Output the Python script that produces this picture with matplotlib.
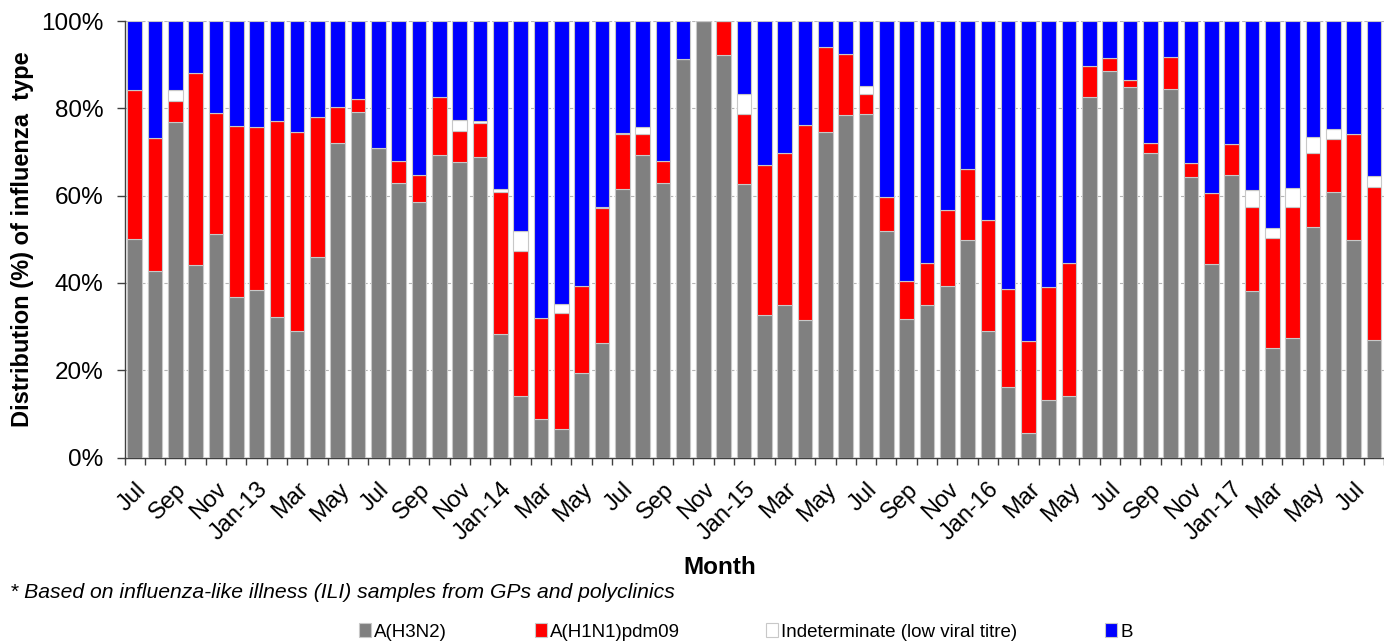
import numpy as np
import matplotlib
matplotlib.use('Agg')
import matplotlib.pyplot as plt
from matplotlib.ticker import FixedLocator, FuncFormatter

months = ["Jul", "Aug", "Sep", "Oct", "Nov", "Dec",
          "Jan-13", "Feb", "Mar", "Apr", "May", "Jun", "Jul", "Aug", "Sep", "Oct", "Nov", "Dec",
          "Jan-14", "Feb", "Mar", "Apr", "May", "Jun", "Jul", "Aug", "Sep", "Oct", "Nov", "Dec",
          "Jan-15", "Feb", "Mar", "Apr", "May", "Jun", "Jul", "Aug", "Sep", "Oct", "Nov", "Dec",
          "Jan-16", "Feb", "Mar", "Apr", "May", "Jun", "Jul", "Aug", "Sep", "Oct", "Nov", "Dec",
          "Jan-17", "Feb", "Mar", "Apr", "May", "Jun", "Jul", "Aug"]

h3n2 = [50.0, 42.7, 76.8, 44.1, 51.3, 36.7, 38.4, 32.2, 29.0, 45.9, 72.0, 79.2,
        71.0, 63.0, 58.5, 69.3, 67.7, 68.8, 28.2, 14.2, 8.8, 6.5, 19.3, 26.2,
        61.5, 69.3, 63.0, 91.2, 100.0, 92.2, 62.6, 32.6, 35.0, 31.5, 74.6, 78.5,
        78.8, 51.9, 31.7, 34.9, 39.3, 49.9, 29.0, 16.1, 5.6, 13.1, 14.2, 82.6,
        88.5, 84.9, 69.7, 84.5, 64.2, 44.3, 64.7, 38.2, 25.2, 27.4, 52.9, 60.8,
        49.9, 26.9]
h1n1 = [34.2, 30.6, 4.9, 43.9, 27.7, 39.3, 37.3, 44.8, 45.6, 32.0, 8.4, 2.9,
        0.0, 5.0, 6.3, 13.4, 7.1, 7.9, 32.7, 33.2, 23.2, 26.7, 20.1, 31.0,
        12.7, 4.8, 5.0, 0.0, 0.0, 7.8, 16.2, 34.4, 34.8, 44.7, 19.4, 13.9,
        4.4, 7.7, 8.7, 9.6, 17.4, 16.3, 25.5, 22.4, 21.1, 26.0, 30.3, 7.1,
        3.0, 1.6, 2.4, 7.3, 3.3, 16.4, 7.1, 19.2, 25.2, 29.9, 16.9, 12.2,
        24.1, 35.1]
indeterminate = [0.0, 0.0, 2.5, 0.0, 0.0, 0.0, 0.0, 0.0, 0.0, 0.0, 0.0, 0.0,
                 0.0, 0.0, 0.0, 0.0, 2.5, 0.5, 0.6, 4.5, 0.0, 1.9, 0.0, 0.2,
                 0.2, 1.7, 0.0, 0.0, 0.0, 0.0, 4.5, 0.0, 0.0, 0.0, 0.0, 0.0,
                 1.8, 0.0, 0.0, 0.0, 0.0, 0.0, 0.0, 0.0, 0.0, 0.0, 0.0, 0.0,
                 0.0, 0.0, 0.0, 0.0, 0.0, 0.0, 0.0, 3.9, 2.1, 4.4, 3.7, 2.2,
                 0.0, 2.5]
b_type = [15.8, 26.7, 15.8, 12.0, 21.0, 24.0, 24.3, 23.0, 25.4, 22.1, 19.6, 17.9,
          29.0, 32.0, 35.2, 17.3, 22.7, 22.8, 38.5, 48.1, 68.0, 64.9, 60.6, 42.6,
          25.6, 24.2, 32.0, 8.8, 0.0, 0.0, 16.7, 33.0, 30.2, 23.8, 6.0, 7.6,
          15.0, 40.4, 59.6, 55.5, 43.3, 33.8, 45.5, 61.5, 73.3, 60.9, 55.5, 10.3,
          8.5, 13.5, 27.9, 8.2, 32.5, 39.3, 28.2, 38.7, 47.5, 38.3, 26.5, 24.8,
          26.0, 35.5]

series_names = ["A(H3N2)", "A(H1N1)pdm09", "Indeterminate (low viral titre)", "B"]
series_colors = ["#808080", "#ff0000", "#ffffff", "#0000ff"]

plt.rcParams['font.family'] = ['Liberation Sans', 'DejaVu Sans']

W, H = 1384, 643
fig = plt.figure(figsize=(W / 100, H / 100), dpi=100)
ax = fig.add_axes([124.5 / W, 1 - 457.5 / H, (W - 124.5) / W, (457.5 - 21) / H])

x = np.arange(len(months))
bottom = np.zeros(len(months))
conts = []
for vals, name, col in zip([h3n2, h1n1, indeterminate, b_type], series_names, series_colors):
    v = np.array(vals)
    c = ax.bar(x, v, width=0.72, bottom=bottom, color=col, edgecolor="#c8c8c8",
               linewidth=0.8, label=name, zorder=3)
    conts.append(c)
    bottom = bottom + v

ax.set_ylim(0, 100)
ax.set_xlim(-0.5, 61.0)
ax.yaxis.set_major_locator(FixedLocator([0, 20, 40, 60, 80, 100]))
ax.yaxis.set_major_formatter(FuncFormatter(lambda v, p: f"{int(v)}%"))
ax.grid(axis='y', color='#b4b4b4', linestyle=(0, (3, 2)), linewidth=0.8, zorder=0)

ax.set_xticks(x[::2])
ax.set_xticklabels(months[::2], rotation=45, ha='right', va='top',
                   rotation_mode='anchor', fontsize=17)
ax.set_xticks(np.arange(-0.5, len(months), 1), minor=True)
ax.tick_params(axis='x', which='major', length=0, pad=15)
ax.tick_params(axis='x', which='minor', length=5, width=1, color='#404040', direction='out')
ax.tick_params(axis='y', length=6, width=1, color='#404040', labelsize=17.5, pad=9)

for s in ['top', 'right']:
    ax.spines[s].set_visible(False)
for s in ['left', 'bottom']:
    ax.spines[s].set_color('#404040')
    ax.spines[s].set_linewidth(1)

ax.set_ylabel("Distribution (%) of influenza  type", fontsize=17, fontweight='bold', labelpad=5)

fig.text(720 / W, 1 - 567 / H, "Month", fontsize=17.5, fontweight='bold', ha='center', va='center')
fig.text(10 / W, 1 - 592 / H, "* Based on influenza-like illness (ILI) samples from GPs and polyclinics",
         fontsize=15.2, style='italic', ha='left', va='center')

legend_x = [359, 535, 766, 1105]
for c, name, lx in zip(conts, series_names, legend_x):
    fig.legend(handles=[c], labels=[name], loc='center left',
               bbox_to_anchor=(lx / W, 1 - 632 / H), frameon=False,
               handlelength=0.65, handleheight=0.75, handletextpad=0.15,
               borderpad=0, borderaxespad=0, fontsize=13.5)

fig.savefig("out.png", dpi=100)
